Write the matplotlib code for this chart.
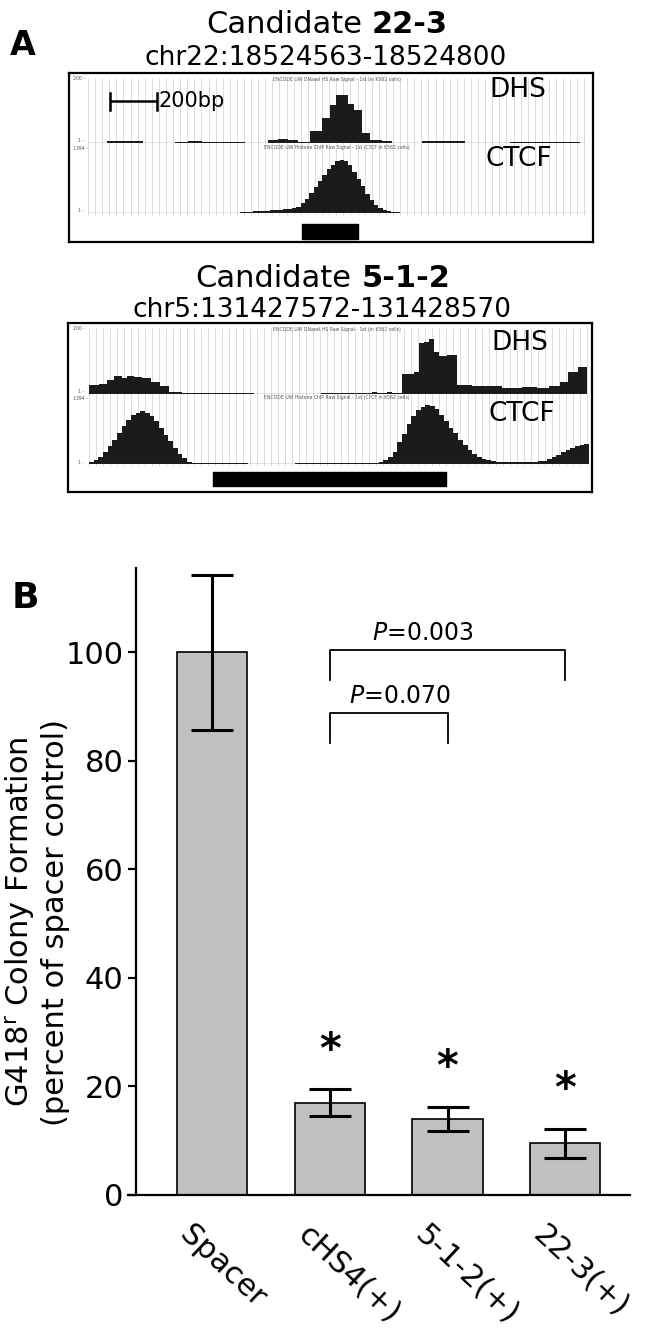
import matplotlib
matplotlib.use("Agg")
import matplotlib.pyplot as plt
import numpy as np

# ======================= DATA: panel A (genome browser) =======================
# positions are bp offsets from the start of the browser window
CAND1_ID = "22-3"
CAND1_CHR = "chr22"
CAND1_REGION = (18524563, 18524800)
CAND1_WINDOW = (18523658, 18525760)

DHS1_EDGES = [0, 79, 234, 368, 424, 481, 664, 763, 805, 847, 890, 939, 990, 1024,
              1049, 1100, 1125, 1159, 1193, 1244, 1286, 1413, 1595, 1785, 2081, 2102]
DHS1_SIGNAL = [0, 1.7, 0, 1, 2, 1.3, 0, 2.7, 4.3, 3.3, 1, 12, 25, 38, 48, 39, 33, 10,
               2.7, 2, 0, 1.7, 0, 1, 0]

CTCF1_START = 643
CTCF1_BIN = 18.3
CTCF1_SIGNAL = [1.0, 1.2, 1.5, 1.7, 2.0, 2.2, 2.4, 2.6, 3.0, 3.3, 3.7, 4.5, 5.5, 6.5,
                9.7, 14.5, 20, 26.7, 32.5, 38.5, 44.5, 49, 52.5, 54.3, 53, 48.3, 42,
                35, 27, 19.5, 13.5, 8.5, 5, 3, 1.8, 1.0, 0.6]

CAND2_ID = "5-1-2"
CAND2_CHR = "chr5"
CAND2_REGION = (131427572, 131428570)
CAND2_WINDOW = (131427041, 131429172)

DHS2_EDGES = [0, 43, 78, 107, 143, 164, 193, 228, 264, 304, 342, 399, 457, 678, 706,
              877, 992, 1213, 1234, 1277, 1298, 1341, 1391, 1412, 1434, 1455, 1477,
              1498, 1534, 1576, 1639, 1768, 1853, 1917, 1969, 2016, 2050, 2093, 2131]
DHS2_SIGNAL = [8.7, 10.3, 13.7, 17.7, 16, 17.7, 17, 15.3, 11.7, 8.3, 2, 1, 0.7, 1.3,
               0, 0.3, 0.7, 2, 1, 2, 1, 20, 21.7, 50.3, 51.7, 54.3, 41.7, 37, 38.3,
               9.3, 8.3, 5.7, 6.7, 5.7, 8.3, 12.3, 21.7, 26.7]

CTCF2_START = 0
CTCF2_BIN = 20.0
CTCF2_SIGNAL = [2.3, 4, 7.3, 12.3, 17.3, 24, 30.7, 37.3, 43, 48,
                50.7, 52.3, 50.7, 47.3, 42.3, 35.7, 29, 22.3, 15.7, 10,
                5.7, 2.3,
                1.3, 1.3, 1.3, 1.3, 1.3, 1.3, 1.3, 1.3, 1.3, 1.3, 1.3, 1.3,
                0.3, 0.3, 0.3, 0.3, 0.3, 0.3, 0.3, 0.3, 0.3, 0.3,
                0.7, 0.7, 0.7, 0.7, 0.7, 0.7, 0.7, 0.7, 0.7, 0.7, 0.7, 0.7,
                0.7, 0.7, 0.7, 0.7, 0.7, 0.7,
                2.3, 4, 6.7, 12.3, 22, 30, 39.7, 47.3, 53, 56.3,
                58.3, 57.3, 54, 48.3, 42.3, 35.7, 30.7, 24, 19, 14,
                10, 6.7, 5, 3.5, 2.7, 2,
                1.7, 1.7, 1.7, 1.7, 1.7, 1.7, 1.7, 1.7,
                2.5, 3.3, 5, 7, 9.3, 12, 14, 16, 17.3, 18.5, 19.3]

# ======================= DATA: panel B (bar chart) =======================
CATEGORIES = ["Spacer", "cHS4(+)", "5-1-2(+)", "22-3(+)"]
MEANS = [100.0, 17.0, 14.0, 9.5]
ERRORS = [14.3, 2.5, 2.3, 2.7]
SIGNIFICANT = [False, True, True, True]
PVAL_PAIRS = [(1, 3, "0.003"), (1, 2, "0.070")]
Y_TICKS = [0, 20, 40, 60, 80, 100]
Y_LABEL_1 = "G418$^{\\mathrm{r}}$ Colony Formation"
Y_LABEL_2 = "(percent of spacer control)"

# ======================= FIGURE =======================
W, H, DPI = 649, 1333, 100
plt.rcParams['font.family'] = ['DejaVu Sans']
plt.rcParams['mathtext.fontset'] = 'dejavusans'
fig = plt.figure(figsize=(W / DPI, H / DPI), dpi=DPI)
renderer = fig.canvas.get_renderer()


def px_axes(x0, y0, x1, y1):
    return fig.add_axes([x0 / W, 1 - y1 / H, (x1 - x0) / W, (y1 - y0) / H])


def fx(x):
    return x / W


def fy(y):
    return 1 - y / H


def two_part_title(xc, yb, regular, bold, size):
    t1 = fig.text(0, 0, regular, fontsize=size, va='baseline', ha='left')
    t2 = fig.text(0, 0, bold, fontsize=size, va='baseline', ha='left', fontweight='bold')
    w1 = t1.get_window_extent(renderer).width
    w2 = t2.get_window_extent(renderer).width
    gap = 0.318 * size * DPI / 72
    x0 = xc - (w1 + gap + w2) / 2
    t1.set_position((fx(x0), fy(yb)))
    t2.set_position((fx(x0 + w1 + gap), fy(yb)))


def draw_browser(box, data_x0, bpp, window, region, dhs_e, dhs_v, c_start, c_bin, c_v,
                 dhs_y, ctcf_y, bar_y, lab_dhs, lab_ctcf):
    x0, y0, x1, y1 = box
    xl = ((x0 - data_x0) * bpp, (x1 - data_x0) * bpp)
    wlen = window[1] - window[0]
    ax = px_axes(x0, y0, x1, y1)
    ax.set_xlim(*xl)
    ax.set_ylim(y1, y0)
    ax.set_xticks([])
    ax.set_yticks([])
    for s in ax.spines.values():
        s.set_linewidth(1.6)
        s.set_color('black')
    grid = np.arange(0, wlen + 1, 30)
    ax.vlines(grid, dhs_y[0], ctcf_y[1] + 2, color='#d6d6d6', lw=0.6, zorder=0)
    ax.broken_barh([(region[0] - window[0], region[1] - region[0])],
                   (bar_y[0], bar_y[1] - bar_y[0]), color='black')

    # DHS track
    tdhs = px_axes(x0, dhs_y[0], x1, dhs_y[1])
    tdhs.set_xlim(*xl)
    tdhs.set_ylim(0, 65)
    tdhs.axis('off')
    tdhs.stairs(dhs_v, dhs_e, fill=True, color='#1b1b1b', baseline=0)
    tdhs.hlines(0, 0, wlen, color='#333333', lw=0.9)

    # CTCF track
    tct = px_axes(x0, ctcf_y[0], x1, ctcf_y[1])
    tct.set_xlim(*xl)
    tct.set_ylim(0, 65)
    tct.axis('off')
    edges = c_start + c_bin * np.arange(len(c_v) + 1)
    tct.stairs(c_v, edges, fill=True, color='#1b1b1b', baseline=0)
    tct.hlines(0, 0, wlen, color='#333333', lw=0.9)

    # tiny browser annotations
    fig.text(fx(337), fy(dhs_y[0] + 2), "ENCODE UW DNaseI HS Raw Signal - 1st (in K562 cells)",
             fontsize=3.3, color='#555555', ha='center', va='center')
    fig.text(fx(337), fy(ctcf_y[0] - 1), "ENCODE UW Histone ChIP Raw Signal - 1st (CTCF in K562 cells)",
             fontsize=3.3, color='#555555', ha='center', va='center')
    fig.text(fx(73), fy(dhs_y[0] + 1), "200 -", fontsize=3.3, color='#555555', va='center')
    fig.text(fx(78), fy(dhs_y[1] - 2), "1 -", fontsize=3.3, color='#555555', va='center')
    fig.text(fx(73), fy(ctcf_y[0]), "1394 -", fontsize=3.3, color='#555555', va='center')
    fig.text(fx(78), fy(ctcf_y[1] - 2), "1 -", fontsize=3.3, color='#555555', va='center')

    fig.text(fx(lab_dhs[0]), fy(lab_dhs[1]), "DHS", fontsize=19, ha='center', va='center')
    fig.text(fx(lab_ctcf[0]), fy(lab_ctcf[1]), "CTCF", fontsize=19, ha='center', va='center')
    return ax


# ---- Panel A ----
fig.text(fx(10), fy(55), "A", fontsize=24, fontweight='bold', va='baseline', ha='left')

two_part_title(327, 33, "Candidate", CAND1_ID, 22)
fig.text(fx(326), fy(65), f"{CAND1_CHR}:{CAND1_REGION[0]}-{CAND1_REGION[1]}",
         fontsize=19, ha='center', va='baseline')
ax1 = draw_browser((69, 73, 593, 242), 88, 4.23, CAND1_WINDOW, CAND1_REGION,
                   DHS1_EDGES, DHS1_SIGNAL, CTCF1_START, CTCF1_BIN, CTCF1_SIGNAL,
                   (78, 143), (149, 213), (224, 239), (518, 90), (519, 159))
# 200 bp scale bar
sb0 = (110 - 88) * 4.23
ax1.plot([sb0, sb0 + 200], [101, 101], color='black', lw=1.8, solid_capstyle='butt')
ax1.plot([sb0, sb0], [93, 110], color='black', lw=1.8)
ax1.plot([sb0 + 200, sb0 + 200], [93, 110], color='black', lw=1.8)
fig.text(fx(159), fy(101), "200bp", fontsize=15, ha='left', va='center')

two_part_title(323, 287, "Candidate", CAND2_ID, 22)
fig.text(fx(322), fy(317), f"{CAND2_CHR}:{CAND2_REGION[0]}-{CAND2_REGION[1]}",
         fontsize=19, ha='center', va='baseline')
draw_browser((68, 323, 592, 492), 89, 4.28, CAND2_WINDOW, CAND2_REGION,
             DHS2_EDGES, DHS2_SIGNAL, CTCF2_START, CTCF2_BIN, CTCF2_SIGNAL,
             (328, 394), (398, 464), (472, 486), (520, 343), (522, 414))

# ---- Panel B ----
fig.text(fx(12), fy(608), "B", fontsize=26, fontweight='bold', va='baseline', ha='left')

bx = px_axes(128, 568, 630, 1195)
bx.set_xlim(-0.714, 3.55)
bx.set_ylim(0, 115.5)
bx.patch.set_alpha(0)
xpos = np.arange(len(CATEGORIES))
bx.bar(xpos, MEANS, width=0.595, color='#c0c0c0', edgecolor='black', linewidth=1.2, zorder=2)
bx.errorbar(xpos, MEANS, yerr=ERRORS, fmt='none', ecolor='black', elinewidth=2.2,
            capsize=14.8, capthick=2.2, zorder=3)
for s in ['top', 'right']:
    bx.spines[s].set_visible(False)
bx.spines['left'].set_position(('data', -0.646))
bx.spines['left'].set_linewidth(1.6)
bx.spines['bottom'].set_linewidth(1.6)
bx.set_yticks(Y_TICKS)
bx.set_yticklabels([str(t) for t in Y_TICKS])
bx.set_xticks([])
bx.tick_params(axis='y', direction='out', length=5.8, width=1.6, labelsize=22, pad=3)

for i, lab in enumerate(CATEGORIES):
    bx.text(i - 0.153, -4.6, lab, rotation=-43, rotation_mode='anchor', ha='left',
            va='top', fontsize=22, clip_on=False)

for i, sig in enumerate(SIGNIFICANT):
    if sig:
        bx.text(i, MEANS[i] + ERRORS[i] + 7.1, "*", ha='center', va='center',
                fontsize=30, fontweight='bold')

bracket_style = [(100.4, 5.5, 1.36, 102.2), (88.8, 5.6, 1.164, 90.6)]
for (a, b, p), (yb, leg, tx, ty) in zip(PVAL_PAIRS, bracket_style):
    bx.plot([a, a, b, b], [yb - leg, yb, yb, yb - leg], color='black', lw=1.3)
    bx.text(tx, ty, "$\\mathit{P}$=" + p, fontsize=17, ha='left', va='baseline')

fig.text(fx(20), fy(922), Y_LABEL_1, rotation=90, ha='center', va='center', fontsize=22)
fig.text(fx(56), fy(922), Y_LABEL_2, rotation=90, ha='center', va='center', fontsize=22)

fig.savefig("out.png", dpi=DPI)
